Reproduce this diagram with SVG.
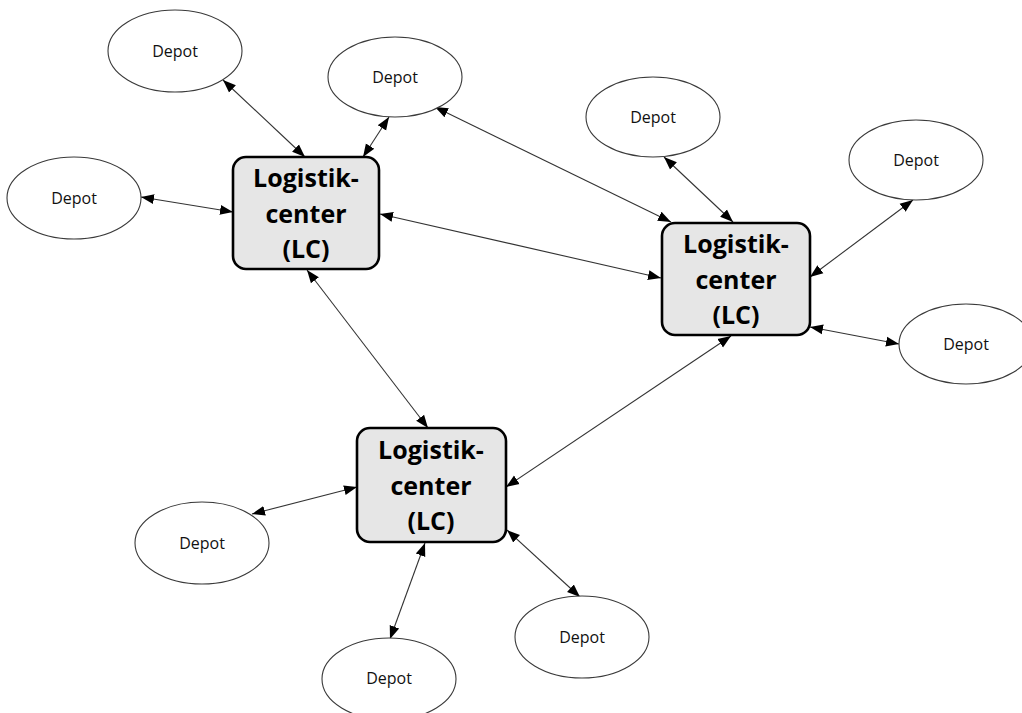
<svg xmlns="http://www.w3.org/2000/svg" width="1022" height="713" viewBox="0 0 1022 713">
<style>
.depot ellipse{fill:#fff;stroke:#3a3a3a;stroke-width:1.1}
.depot text{font-family:"Open Sans","Noto Sans",sans-serif;font-size:16px;fill:#111;text-anchor:middle}
.lc rect{fill:#e6e6e6;stroke:#000;stroke-width:2.6}
.lc text{font-family:"Open Sans","Noto Sans",sans-serif;font-size:25px;font-weight:bold;fill:#000;text-anchor:middle}
#connectors line{stroke:#333;stroke-width:1.1;marker-start:url(#ah);marker-end:url(#ah)}
</style>
<defs>
<marker id="ah" markerUnits="userSpaceOnUse" markerWidth="14" markerHeight="12" viewBox="0 0 14 12" refX="13" refY="6" orient="auto-start-reverse">
<path d="M0,1 L13,6 L0,11 Z" fill="#000"/>
</marker>
</defs>
<rect width="1022" height="713" fill="#fff"/>
<g id="connectors">
<line x1="223" y1="80" x2="305" y2="157"/>
<line x1="389" y1="117" x2="363" y2="157"/>
<line x1="141" y1="197" x2="233" y2="212"/>
<line x1="435" y1="107" x2="671" y2="222"/>
<line x1="380" y1="214" x2="661" y2="278"/>
<line x1="664" y1="157" x2="733" y2="222"/>
<line x1="913" y1="200" x2="810" y2="277"/>
<line x1="810" y1="327" x2="899" y2="344"/>
<line x1="731" y1="336" x2="506" y2="487"/>
<line x1="307" y1="270" x2="428" y2="428"/>
<line x1="357" y1="487" x2="252" y2="514"/>
<line x1="425" y1="543" x2="390" y2="639"/>
<line x1="507" y1="530" x2="580" y2="597"/>
</g>
<g id="depot1" class="depot"><ellipse cx="175" cy="51" rx="67" ry="41"/><text x="175" y="57">Depot</text></g>
<g id="depot2" class="depot"><ellipse cx="395" cy="77" rx="67" ry="40"/><text x="395" y="83">Depot</text></g>
<g id="depot3" class="depot"><ellipse cx="74" cy="198" rx="67" ry="41"/><text x="74" y="204">Depot</text></g>
<g id="depot4" class="depot"><ellipse cx="653" cy="117" rx="67" ry="40"/><text x="653" y="123">Depot</text></g>
<g id="depot5" class="depot"><ellipse cx="916" cy="160" rx="67" ry="40"/><text x="916" y="166">Depot</text></g>
<g id="depot6" class="depot"><ellipse cx="966" cy="344" rx="67" ry="40"/><text x="966" y="350">Depot</text></g>
<g id="depot7" class="depot"><ellipse cx="202" cy="543" rx="67" ry="41"/><text x="202" y="549">Depot</text></g>
<g id="depot8" class="depot"><ellipse cx="389" cy="679" rx="67" ry="41"/><text x="389" y="684">Depot</text></g>
<g id="depot9" class="depot"><ellipse cx="582" cy="637" rx="67" ry="41"/><text x="582" y="643">Depot</text></g>
<g id="lc1" class="lc"><rect x="233" y="157" width="146" height="112" rx="13"/><text x="306" y="187">Logistik-</text><text x="306" y="223">center</text><text x="306" y="258">(LC)</text></g>
<g id="lc2" class="lc"><rect x="662" y="223" width="148" height="112" rx="13"/><text x="736" y="253">Logistik-</text><text x="736" y="289">center</text><text x="736" y="324">(LC)</text></g>
<g id="lc3" class="lc"><rect x="357" y="428" width="149" height="114" rx="13"/><text x="431" y="459">Logistik-</text><text x="431" y="495">center</text><text x="431" y="530">(LC)</text></g>
</svg>
